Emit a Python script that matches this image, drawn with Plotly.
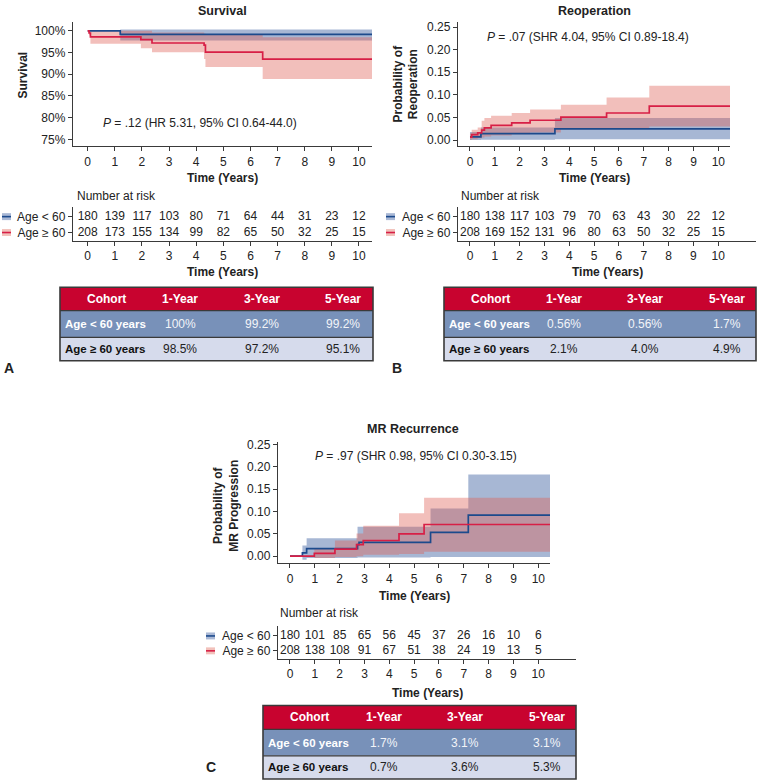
import plotly.graph_objects as go

W, H = 757, 783
FONT = "Liberation Sans, Arial, Helvetica, sans-serif"
INK = "#222222"
BLUE = "#1c4a8c"
RED = "#d71f46"
BLUE_FILL = "rgba(60,95,160,0.45)"
RED_FILL = "rgba(222,95,85,0.40)"
BLUE_SWATCH = "#a9b8d5"
RED_SWATCH = "#f2c1bb"

years = list(range(11))
group_labels = ["Age < 60", "Age \u2265 60"]

# ---------------- Panel A: Survival (%) ----------------
a_lt60_t = [0, 1.2, 10.48]
a_lt60_est = [100, 99.2, 99.2]
a_lt60_lo = [100, 97.8, 97.8]
a_lt60_hi = [100, 100.3, 100.3]

a_ge60_t = [0, 0.05, 0.1, 1.96, 2.37, 4.29, 4.34, 6.45, 10.48]
a_ge60_est = [100, 99.5, 98.6, 98.0, 97.2, 96.7, 95.1, 93.5, 93.5]
a_ge60_lo = [100, 99.0, 97.0, 96.0, 95.1, 93.5, 91.7, 88.9, 88.9]
a_ge60_hi = [100, 100, 100, 100, 99.6, 99.4, 99.3, 98.5, 98.5]

a_risk_lt60 = [180, 139, 117, 103, 80, 71, 64, 44, 31, 23, 12]
a_risk_ge60 = [208, 173, 155, 134, 99, 82, 65, 50, 32, 25, 15]

# ---------------- Panel B: Reoperation ----------------
b_lt60_t = [0, 0.44, 3.42, 10.47]
b_lt60_est = [0.007, 0.0145, 0.0247, 0.0247]
b_lt60_lo = [0.0, 0.001, 0.002, 0.002]
b_lt60_hi = [0.018, 0.028, 0.049, 0.049]

b_ge60_t = [0, 0.07, 0.31, 0.47, 0.58, 0.85, 1.68, 2.42, 3.66, 5.5, 7.22, 10.47]
b_ge60_est = [0.0065, 0.0123, 0.016, 0.022, 0.027, 0.0326, 0.038, 0.044, 0.051, 0.060, 0.0754, 0.0754]
b_ge60_lo = [0.0, 0.002, 0.004, 0.006, 0.008, 0.010, 0.013, 0.017, 0.024, 0.027, 0.030, 0.030]
b_ge60_hi = [0.015, 0.023, 0.028, 0.043, 0.049, 0.054, 0.060, 0.068, 0.078, 0.094, 0.120, 0.120]

b_risk_lt60 = [180, 138, 117, 103, 79, 70, 63, 43, 30, 22, 12]
b_risk_ge60 = [208, 169, 152, 131, 96, 80, 63, 50, 32, 25, 15]

# ---------------- Panel C: MR recurrence ----------------
c_lt60_t = [0, 0.5, 0.67, 2.72, 2.78, 5.66, 7.18, 10.47]
c_lt60_est = [0, 0.0074, 0.017, 0.026, 0.031, 0.0535, 0.092, 0.092]
c_lt60_lo = [0, -0.008, -0.004, -0.003, -0.003, -0.002, -0.002, -0.002]
c_lt60_hi = [0, 0.024, 0.040, 0.066, 0.066, 0.107, 0.183, 0.183]

c_ge60_t = [0, 0.98, 1.81, 2.68, 2.95, 4.39, 5.4, 10.47]
c_ge60_est = [0, 0.006, 0.0156, 0.026, 0.035, 0.050, 0.071, 0.071]
c_ge60_lo = [0, -0.004, -0.002, 0.0, 0.003, 0.005, 0.010, 0.010]
c_ge60_hi = [0, 0.016, 0.035, 0.051, 0.068, 0.096, 0.131, 0.131]

c_risk_lt60 = [180, 101, 85, 65, 56, 45, 37, 26, 16, 10, 6]
c_risk_ge60 = [208, 138, 108, 91, 67, 51, 38, 24, 19, 13, 5]

# ---------------- Tables ----------------
table_header = ["Cohort", "1-Year", "3-Year", "5-Year"]
table_cohorts = ["Age < 60 years", "Age \u2265 60 years"]
tbl_a = [["100%", "99.2%", "99.2%"], ["98.5%", "97.2%", "95.1%"]]
tbl_b = [["0.56%", "0.56%", "1.7%"], ["2.1%", "4.0%", "4.9%"]]
tbl_c = [["1.7%", "3.1%", "3.1%"], ["0.7%", "3.6%", "5.3%"]]

pct_ticks = [75, 80, 85, 90, 95, 100]
pct_labels = ["75%", "80%", "85%", "90%", "95%", "100%"]
prob_ticks = [0, 0.05, 0.10, 0.15, 0.20, 0.25]
prob_labels = ["0.00", "0.05", "0.10", "0.15", "0.20", "0.25"]

HDR_FILL = "#c8032f"
ROW1_FILL = "#7891b9"
ROW2_FILL = "#d6dbec"
BORDER = "#3a3a3a"


def px(p):
    return p / W


def py(p):
    return 1 - p / H


fig = go.Figure()
layout = dict(
    width=W, height=H, autosize=False,
    margin=dict(l=0, r=0, t=0, b=0),
    paper_bgcolor="white", plot_bgcolor="white",
    showlegend=False,
    font=dict(family=FONT, size=12, color=INK),
)
annotations = []
shapes = []


def axname(n, kind):
    return kind + ("" if n == 1 else str(n))


def add_axes(n, xdom, ydom, xr, yr, ykw):
    xa = dict(domain=[px(xdom[0]), px(xdom[1])], range=xr, anchor=axname(n, "y"),
              showline=True, linecolor=BORDER, linewidth=1.4, ticks="outside",
              ticklen=4, tickwidth=1.2, tickcolor=BORDER, tickvals=years,
              tickfont=dict(size=12, color=INK, family=FONT), showgrid=False,
              zeroline=False, fixedrange=True)
    ya = dict(domain=[py(ydom[1]), py(ydom[0])], range=yr, anchor=axname(n, "x"),
              showline=True, linecolor=BORDER, linewidth=1.4, ticks="outside",
              ticklen=4, tickwidth=1.2, tickcolor=BORDER, showgrid=False,
              zeroline=False, fixedrange=True,
              tickfont=dict(size=12, color=INK, family=FONT))
    ya.update(ykw)
    layout[axname(n, "xaxis")] = xa
    layout[axname(n, "yaxis")] = ya


def km(n, series):
    xa, ya = axname(n, "x"), axname(n, "y")
    for t, est, lo, hi, col, fill in series:
        fig.add_trace(go.Scatter(x=t, y=lo, mode="lines", line=dict(width=0, shape="hv"),
                                 hoverinfo="skip", xaxis=xa, yaxis=ya))
        fig.add_trace(go.Scatter(x=t, y=hi, mode="lines", line=dict(width=0, shape="hv"),
                                 fill="tonexty", fillcolor=fill, hoverinfo="skip",
                                 xaxis=xa, yaxis=ya))
    for t, est, lo, hi, col, fill in series:
        fig.add_trace(go.Scatter(x=t, y=est, mode="lines",
                                 line=dict(color=col, width=1.7, shape="hv"),
                                 xaxis=xa, yaxis=ya))


def risk(n, lt60, ge60):
    xa, ya = axname(n, "x"), axname(n, "y")
    for yv, vals in ((1, lt60), (0, ge60)):
        fig.add_trace(go.Scatter(x=years, y=[yv] * len(years), mode="text",
                                 text=[str(v) for v in vals],
                                 textfont=dict(size=12, color=INK, family=FONT),
                                 xaxis=xa, yaxis=ya, hoverinfo="skip"))


def ann(x, y, text, size=12, bold=False, anchor="center", angle=0, color=INK):
    annotations.append(dict(xref="paper", yref="paper", x=px(x), y=py(y),
                            text=("<b>%s</b>" % text) if bold else text,
                            showarrow=False, xanchor=anchor, yanchor="middle",
                            textangle=angle,
                            font=dict(size=size, color=color, family=FONT)))


def swatches(x0, rows_y):
    for yy, fillc, linec in zip(rows_y, (BLUE_SWATCH, RED_SWATCH), (BLUE, RED)):
        shapes.append(dict(type="rect", xref="paper", yref="paper",
                           x0=px(x0), x1=px(x0 + 9), y0=py(yy + 3.5), y1=py(yy - 3.5),
                           fillcolor=fillc, line=dict(width=0), layer="above"))
        shapes.append(dict(type="line", xref="paper", yref="paper",
                           x0=px(x0), x1=px(x0 + 9), y0=py(yy), y1=py(yy),
                           line=dict(color=linec, width=1.6), layer="above"))


def table(left, top, rows, cols_off, width=313, heights=(23.5, 27, 23.5)):
    h0, h1, h2 = heights
    bands = [(top, top + h0, HDR_FILL), (top + h0, top + h0 + h1, ROW1_FILL),
             (top + h0 + h1, top + h0 + h1 + h2, ROW2_FILL)]
    for y0, y1, c in bands:
        shapes.append(dict(type="rect", xref="paper", yref="paper",
                           x0=px(left), x1=px(left + width), y0=py(y1), y1=py(y0),
                           fillcolor=c, line=dict(width=0), layer="below"))
    for yy in (top + h0, top + h0 + h1):
        shapes.append(dict(type="line", xref="paper", yref="paper",
                           x0=px(left), x1=px(left + width), y0=py(yy), y1=py(yy),
                           line=dict(color=BORDER, width=1.3)))
    shapes.append(dict(type="rect", xref="paper", yref="paper",
                       x0=px(left), x1=px(left + width), y0=py(top + h0 + h1 + h2), y1=py(top),
                       fillcolor="rgba(0,0,0,0)", line=dict(color=BORDER, width=1.6)))
    yc = [top + h0 / 2, top + h0 + h1 / 2, top + h0 + h1 + h2 / 2]
    for i, htxt in enumerate(table_header):
        ann(left + cols_off[i], yc[0], htxt, size=12, bold=True, color="white")
    for r, (coh, vals) in enumerate(zip(table_cohorts, rows)):
        colr = "white" if r == 0 else "#111111"
        valc = "#f2f4f8" if r == 0 else "#222222"
        ann(left + 3, yc[r + 1], coh, size=11.5, bold=True, anchor="left", color=colr)
        for j, v in enumerate(vals):
            ann(left + cols_off[j + 1], yc[r + 1], v, size=12, color=valc)


pct_axis = dict(tickvals=pct_ticks, ticktext=pct_labels)
prob_axis = dict(tickvals=prob_ticks, ticktext=prob_labels)
risk_axis = dict(tickvals=[1, 0], ticktext=group_labels)

# ---- Panel A ----
add_axes(1, (73, 372), (18, 143), [-0.542, 10.48], [73.47, 102.06], pct_axis)
km(1, [(a_lt60_t, a_lt60_est, a_lt60_lo, a_lt60_hi, BLUE, BLUE_FILL),
       (a_ge60_t, a_ge60_est, a_ge60_lo, a_ge60_hi, RED, RED_FILL)])
add_axes(2, (73, 372), (204, 238.3), [-0.542, 10.48], [-0.52, 1.625], risk_axis)
risk(2, a_risk_lt60, a_risk_ge60)
ann(223, 7, "Survival", size=12.5, bold=True)
ann(23, 72, "Survival", size=12, bold=True, angle=-90)
ann(200, 120, "<i>P</i> = .12 (HR 5.31, 95% CI 0.64-44.0)", size=12)
ann(222.5, 175, "Time (Years)", size=12, bold=True)
ann(75, 193, "Number at risk", size=12, anchor="left")
ann(222.5, 270, "Time (Years)", size=12, bold=True)
swatches(2, (214, 230))
table(60, 285, tbl_a, (46, 120, 202, 283))
ann(9, 366, "A", size=14, bold=True)

# ---- Panel B ----
add_axes(3, (458, 730), (18, 143), [-0.483, 10.47], [-0.0132, 0.2615], prob_axis)
km(3, [(b_lt60_t, b_lt60_est, b_lt60_lo, b_lt60_hi, BLUE, BLUE_FILL),
       (b_ge60_t, b_ge60_est, b_ge60_lo, b_ge60_hi, RED, RED_FILL)])
add_axes(4, (458, 756), (204, 238.3), [-0.483, 11.52], [-0.52, 1.625], risk_axis)
risk(4, b_risk_lt60, b_risk_ge60)
ann(594, 7, "Reoperation", size=12.5, bold=True)
ann(406, 80, "Probability of<br>Reoperation", size=12, bold=True, angle=-90)
ann(588, 33, "<i>P</i> = .07 (SHR 4.04, 95% CI 0.89-18.4)", size=12)
ann(594, 175, "Time (Years)", size=12, bold=True)
ann(459, 193, "Number at risk", size=12, anchor="left")
ann(607, 270, "Time (Years)", size=12, bold=True)
swatches(386, (214, 230))
table(444, 285, tbl_b, (46, 120, 201, 283), width=312)
ann(397, 366, "B", size=14, bold=True)

# ---- Panel C ----
add_axes(5, (278, 550), (441, 562.5), [-0.483, 10.47], [-0.0152, 0.2556], prob_axis)
km(5, [(c_lt60_t, c_lt60_est, c_lt60_lo, c_lt60_hi, BLUE, BLUE_FILL),
       (c_ge60_t, c_ge60_est, c_ge60_lo, c_ge60_hi, RED, RED_FILL)])
add_axes(6, (278, 576), (625.7, 659), [-0.483, 11.52], [-0.533, 1.687], risk_axis)
risk(6, c_risk_lt60, c_risk_ge60)
ann(413, 428, "MR Recurrence", size=12.5, bold=True)
ann(226, 505, "Probability of<br>MR Progression", size=12, bold=True, angle=-90)
ann(416, 455, "<i>P</i> = .97 (SHR 0.98, 95% CI 0.30-3.15)", size=12)
ann(414, 596, "Time (Years)", size=12, bold=True)
ann(278, 613, "Number at risk", size=12, anchor="left")
ann(427, 693, "Time (Years)", size=12, bold=True)
swatches(206, (636, 651))
table(263, 706, tbl_c, (46, 121, 202, 284), heights=(24, 26.7, 23.3))
ann(211, 768, "C", size=14, bold=True)

layout["annotations"] = annotations
layout["shapes"] = shapes
fig.update_layout(**layout)
fig.write_html("out.html",
               config={"displayModeBar": False},
               post_script="document.body.style.margin='0';document.body.style.padding='0';")
